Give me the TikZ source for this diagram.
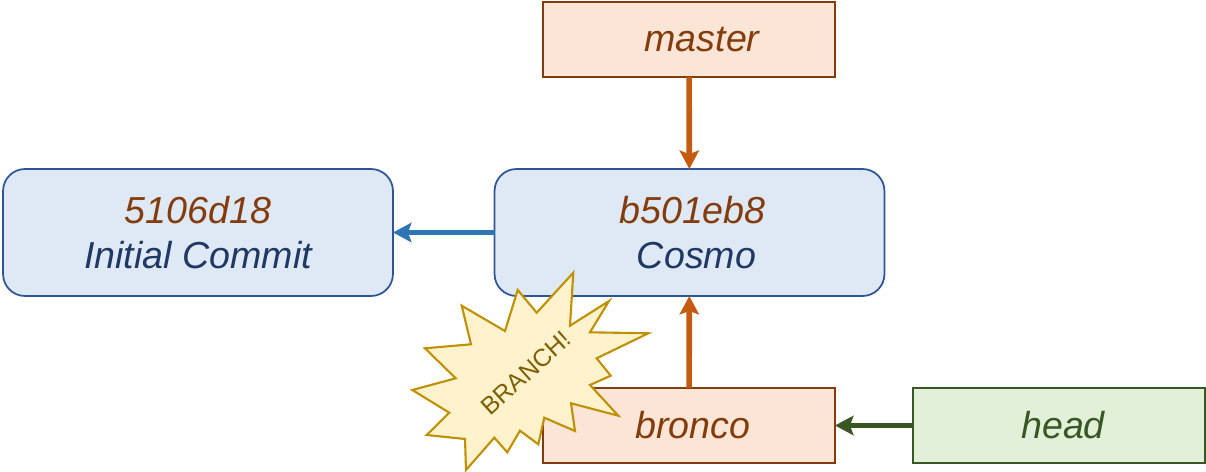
\documentclass[tikz,border=0pt]{standalone}
\usepackage{fontspec}
\setmainfont{Liberation Sans}
\usetikzlibrary{arrows.meta}
\definecolor{commitfill}{HTML}{DEE9F5}
\definecolor{commitline}{HTML}{2F5597}
\definecolor{commitname}{HTML}{1F3864}
\definecolor{hashtext}{HTML}{843C0C}
\definecolor{branchfill}{HTML}{FBE5D6}
\definecolor{brancharrow}{HTML}{C55A11}
\definecolor{parentarrow}{HTML}{2E75B6}
\definecolor{headfill}{HTML}{E2F0D9}
\definecolor{headline}{HTML}{385723}
\definecolor{starfill}{HTML}{FFF2CC}
\definecolor{starline}{HTML}{BF9000}
\definecolor{startext}{HTML}{7F6000}
\begin{document}
\begin{tikzpicture}[
        x=0.02cm, y=-0.02cm,
        % Box styles
        commit/.style={draw=commitline, fill=commitfill, line width=1pt, rounded corners=0.44cm, minimum width=7.8cm, minimum height=2.54cm, align=center, outer sep=0pt, font=\fontsize{21.4}{25.6}\selectfont\itshape},
        branch/.style={draw=hashtext, fill=branchfill, text=hashtext, line width=1pt, minimum width=5.84cm, minimum height=1.5cm, outer sep=0pt, font=\fontsize{21.4}{25.6}\selectfont\itshape},
        headbox/.style={branch, draw=headline, fill=headfill, text=headline},
        % Arrow style
        arrow/.style={-{Stealth[length=10.5pt, width=11pt, inset=2pt]}, line width=3.2pt}
    ]
    \useasboundingbox (0,0) rectangle (1206,472);

    % Top box and commits
    \node[branch] (master) at (689,39.5) {\hspace*{0.52cm}master};
    \node[commit] (cosmo) at (689.5,232.5) {\textcolor{hashtext}{\hspace*{0.12cm}b501eb8}\\\textcolor{commitname}{\hspace*{0.28cm}Cosmo}};
    \node[commit] (initial) at (198,232.5) {\textcolor{hashtext}{5106d18}\\\textcolor{commitname}{Initial Commit}};

    % Bottom row
    \node[branch] (bronco) at (689,425.5) {\hspace*{0.16cm}bronco};
    \node[headbox] (head) at (1059,425.5) {\hspace*{0.16cm}head};

    % Connections
    \draw[arrow, brancharrow] (master) -- (cosmo);
    \draw[arrow, parentarrow] (cosmo) -- (initial);
    \draw[arrow, brancharrow] (bronco) -- (cosmo);
    \draw[arrow, headline] (head) -- (bronco);

    % Star over the bronco box
    \draw[draw=starline, fill=starfill, line width=1.2pt] (573.3,272.7) -- (570,325.7) -- (609,301) -- (590,332.3) -- (648.3,333.3) -- (596.7,358.3) -- (610.7,375.7) -- (590,385) -- (618.3,415.7) -- (571,403.3) -- (575,431) -- (544.3,417.7) -- (538.3,444.3) -- (520,430.7) -- (507.3,452.3) -- (494.3,437.7) -- (466,470) -- (465,439) -- (426.7,435) -- (449.3,412.7) -- (412.3,390) -- (455.7,378.3) -- (425,348.3) -- (471,344.3) -- (461.7,305.7) -- (505,331) -- (517.7,290) -- (536.7,312.7) -- cycle;
    \node[text=startext, rotate=42, font=\fontsize{14}{17}\selectfont] (bang) at (526,373) {BRANCH!};

\end{tikzpicture}
\end{document}
